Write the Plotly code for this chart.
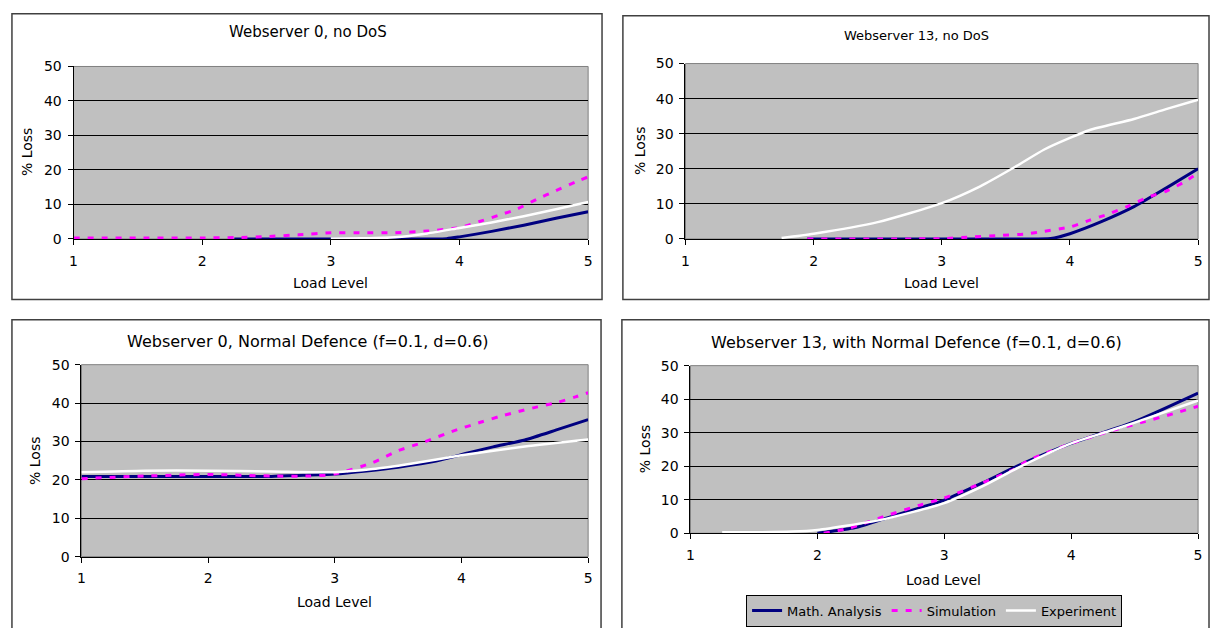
import plotly.graph_objects as go

W, H = 1214, 628

# ---------------- data ----------------
# Panel 1: Webserver 0, no DoS
p1_math_x = [2.25, 2.6, 3.0, 3.5, 3.9, 4.0, 4.25, 4.5, 4.75, 5.0]
p1_math_y = [0.0, 0.0, 0.0, 0.0, 0.1, 0.6, 2.2, 4.0, 6.0, 7.9]
p1_sim_x = [1.0, 1.5, 2.0, 2.25, 2.5, 2.75, 3.0, 3.25, 3.5, 3.75, 4.0, 4.15, 4.3, 4.45, 4.6, 4.75, 4.9, 5.0]
p1_sim_y = [0.3, 0.3, 0.3, 0.4, 0.7, 1.2, 1.8, 1.8, 1.8, 2.3, 3.3, 5.0, 6.8, 8.7, 11.5, 14.0, 16.5, 18.0]
p1_exp_x = [3.0, 3.25, 3.5, 3.75, 4.0, 4.25, 4.5, 4.75, 5.0]
p1_exp_y = [0.1, 0.2, 0.5, 1.6, 3.2, 4.8, 6.6, 8.6, 10.7]

# Panel 2: Webserver 13, no DoS
p2_math_x = [1.95, 2.5, 3.0, 3.5, 3.85, 4.0, 4.25, 4.5, 4.75, 5.0]
p2_math_y = [0.0, 0.0, 0.0, 0.0, 0.1, 1.5, 5.0, 9.2, 14.5, 20.0]
p2_sim_x = [1.95, 2.5, 3.0, 3.25, 3.45, 3.65, 3.8, 4.0, 4.15, 4.3, 4.45, 4.6, 4.75, 4.9, 5.0]
p2_sim_y = [0.0, 0.0, 0.1, 0.6, 1.0, 1.4, 2.2, 3.4, 5.3, 7.1, 9.3, 11.8, 13.6, 16.4, 18.8]
p2_exp_x = [1.75, 2.0, 2.5, 3.0, 3.3, 3.57, 3.8, 4.0, 4.15, 4.5, 4.75, 5.0]
p2_exp_y = [0.3, 1.5, 4.8, 10.2, 15.0, 20.5, 25.5, 28.8, 31.0, 34.2, 37.0, 39.7]

# Panel 3: Webserver 0, Normal Defence
p3_math_x = [1.0, 1.5, 2.0, 2.5, 2.75, 3.0, 3.25, 3.5, 3.8, 4.05, 4.25, 4.5, 4.75, 5.0]
p3_math_y = [20.9, 20.9, 20.9, 20.9, 21.2, 21.5, 22.3, 23.3, 24.9, 27.0, 28.6, 30.4, 33.0, 35.7]
p3_sim_x = [1.0, 1.5, 2.0, 2.5, 2.8, 3.0, 3.3, 3.5, 3.7, 3.95, 4.15, 4.3, 4.45, 4.6, 4.75, 4.9, 5.0]
p3_sim_y = [20.3, 21.0, 21.4, 21.0, 21.0, 21.5, 24.5, 27.6, 29.8, 32.9, 35.0, 36.5, 37.8, 39.0, 40.1, 41.6, 42.7]
p3_exp_x = [1.0, 1.5, 2.0, 2.5, 3.0, 3.3, 3.6, 4.0, 4.5, 5.0]
p3_exp_y = [22.0, 22.4, 22.4, 22.2, 22.0, 22.8, 24.2, 26.4, 28.7, 30.5]

# Panel 4: Webserver 13, with Normal Defence
p4_math_x = [2.0, 2.3, 2.55, 2.8, 3.0, 3.3, 3.6, 4.0, 4.5, 5.0]
p4_math_y = [0.0, 1.7, 4.6, 7.5, 9.9, 15.0, 20.5, 26.8, 33.3, 41.8]
p4_sim_x = [2.05, 2.25, 2.55, 2.8, 3.0, 3.3, 3.55, 3.65, 3.8, 4.0, 4.3, 4.55, 4.8, 5.0]
p4_sim_y = [0.0, 1.5, 5.3, 8.3, 10.5, 15.0, 19.1, 21.5, 23.9, 26.8, 30.4, 33.0, 35.6, 37.9]
p4_exp_x = [1.25, 1.5, 1.8, 2.0, 2.5, 3.0, 3.3, 3.6, 4.0, 4.3, 4.5, 5.0]
p4_exp_y = [0.3, 0.3, 0.5, 1.0, 4.0, 9.0, 14.0, 19.9, 26.8, 30.5, 33.0, 39.6]

titles = ["Webserver 0, no DoS", "Webserver 13, no DoS",
          "Webserver 0, Normal Defence (f=0.1, d=0.6)",
          "Webserver 13, with Normal Defence (f=0.1, d=0.6)"]
series_names = ["Math. Analysis", "Simulation", "Experiment"]
x_ticks = [1, 2, 3, 4, 5]
y_ticks = [0, 10, 20, 30, 40, 50]
x_title = "Load Level"
y_title = "% Loss"

panels = [
    (p1_math_x, p1_math_y, p1_sim_x, p1_sim_y, p1_exp_x, p1_exp_y),
    (p2_math_x, p2_math_y, p2_sim_x, p2_sim_y, p2_exp_x, p2_exp_y),
    (p3_math_x, p3_math_y, p3_sim_x, p3_sim_y, p3_exp_x, p3_exp_y),
    (p4_math_x, p4_math_y, p4_sim_x, p4_sim_y, p4_exp_x, p4_exp_y),
]

# ---------------- layout geometry (pixels) ----------------
plot_px = [  # left, right, top, bottom
    (70, 588, 60, 237),
    (686, 1202, 57, 237),
    (78, 588, 366, 563),
    (691, 1202, 367, 539),
]
box_px = [(8, 602, 6, 299), (623, 1213, 8, 299), (8, 601, 320, 640), (622, 1213, 320, 640)]
title_pos = [(306, 25, 15), (919, 28, 13), (306, 342, 16), (919, 343, 16)]
xtitle_pos = [(329, 282), (944, 282), (333, 610), (946, 587)]
ytitle_pos = [(23, 148), (640, 147), (31, 465), (646, 453)]

FONT = "DejaVu Sans, Verdana, sans-serif"
colors = ["#000080", "#FF00FF", "#FFFFFF"]

fig = go.Figure()

def px(xp):
    return xp / W

def py(yp):
    return 1 - yp / H

for i, (data, (l, r, t, b)) in enumerate(zip(panels, plot_px)):
    n = i + 1
    xa = "x" if n == 1 else f"x{n}"
    ya = "y" if n == 1 else f"y{n}"
    mx, my, sx, sy, ex, ey = data
    for k, (xx, yy) in enumerate([(mx, my), (sx, sy), (ex, ey)]):
        line = dict(color=colors[k], width=3 if k < 2 else 2.5, shape="spline", smoothing=0.6)
        if k == 1:
            line["dash"] = "6px,8px"
        fig.add_trace(go.Scatter(
            x=xx, y=yy, mode="lines", name=series_names[k], line=line,
            xaxis=xa, yaxis=ya, showlegend=(n == 4), hoverinfo="skip",
        ))
    common = dict(showline=True, linecolor="black", linewidth=1, ticks="outside",
                  ticklen=5, tickcolor="black", tickfont=dict(family=FONT, size=14, color="black"))
    fig.layout[("xaxis" if n == 1 else f"xaxis{n}")] = dict(
        domain=[px(l), px(r)], anchor=ya, range=[1, 5], tickvals=x_ticks,
        showgrid=False, zeroline=False, ticklabelstandoff=4, **common)
    fig.layout[("yaxis" if n == 1 else f"yaxis{n}")] = dict(
        domain=[py(b), py(t)], anchor=xa, range=[0, 50], tickvals=y_ticks,
        showgrid=True, gridcolor="black", gridwidth=1, zeroline=False, ticklabelstandoff=3, **common)
    fig.add_shape(type="rect", xref="paper", yref="paper",
                  x0=px(l), x1=px(r), y0=py(b), y1=py(t),
                  line=dict(color="#808080", width=1), layer="below")

for (x0, x1, y0, y1) in box_px:
    fig.add_shape(type="rect", xref="paper", yref="paper",
                  x0=px(x0), x1=px(x1), y0=py(y1), y1=py(y0),
                  line=dict(color="#404040", width=1.5))

for txt, (x, y, s) in zip(titles, title_pos):
    fig.add_annotation(text=txt, x=px(x), y=py(y), xref="paper", yref="paper",
                       showarrow=False, xanchor="center", yanchor="middle",
                       font=dict(family=FONT, size=s, color="black"))
for (x, y) in xtitle_pos:
    fig.add_annotation(text=x_title, x=px(x), y=py(y), xref="paper", yref="paper",
                       showarrow=False, xanchor="center", yanchor="middle",
                       font=dict(family=FONT, size=14, color="black"))
for (x, y) in ytitle_pos:
    fig.add_annotation(text=y_title, x=px(x), y=py(y), xref="paper", yref="paper",
                       showarrow=False, xanchor="center", yanchor="middle", textangle=-90,
                       font=dict(family=FONT, size=14, color="black"))

fig.update_layout(
    width=W, height=H, margin=dict(l=0, r=0, t=0, b=0),
    paper_bgcolor="white", plot_bgcolor="#C0C0C0",
    legend=dict(orientation="h", x=px(747), y=py(602), xanchor="left", yanchor="top",
                bgcolor="#C0C0C0", bordercolor="black", borderwidth=1,
                font=dict(family=FONT, size=13, color="black"),
                tracegroupgap=0, itemwidth=30),
    showlegend=True,
)

fig.write_html("out.html", config={"displayModeBar": False},
               post_script="document.body.style.margin='0';document.body.style.overflow='hidden';")
